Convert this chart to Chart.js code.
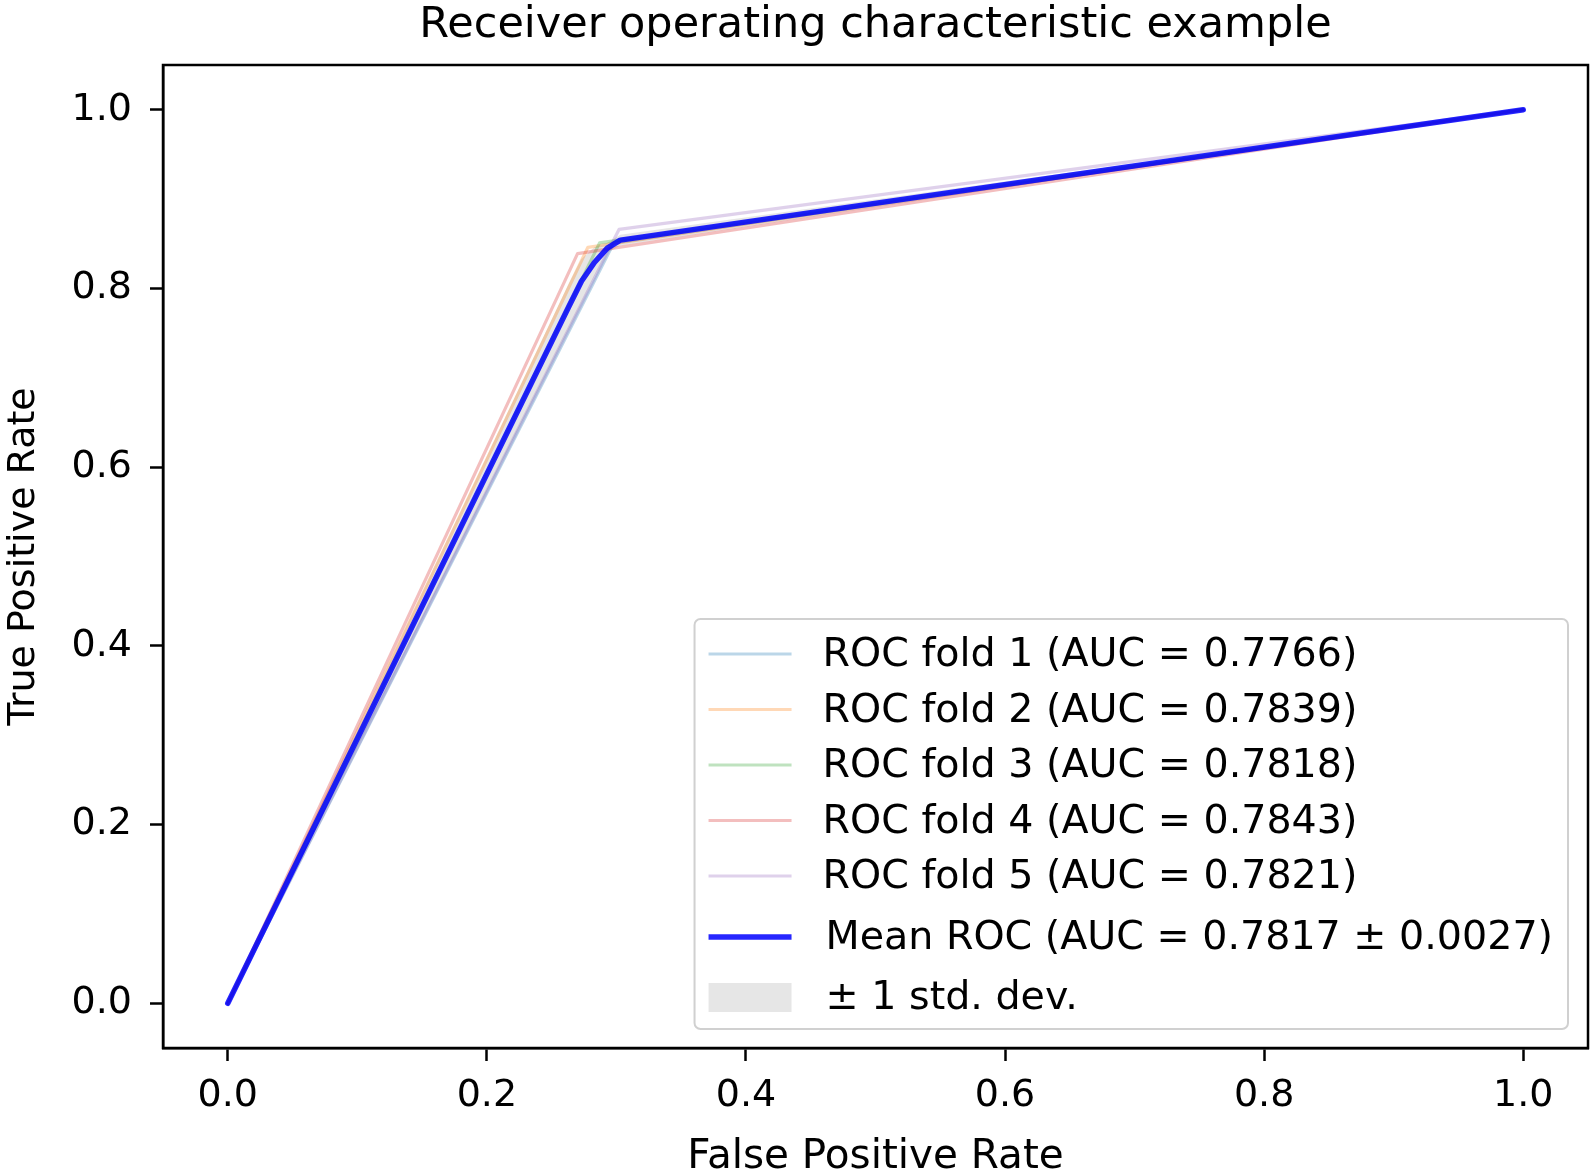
<!DOCTYPE html>
<html>
<head>
<meta charset="utf-8">
<script src="https://cdn.jsdelivr.net/npm/chart.js@4.4.1/dist/chart.umd.min.js"></script>
<style>
html,body{margin:0;padding:0;background:#fff;}
#wrap{width:1595px;height:1171px;}
</style>
</head>
<body>
<div id="wrap"><canvas id="c" width="1595" height="1171"></canvas></div>
<script>
// ---- data ----
const tickValues = [0, 0.2, 0.4, 0.6, 0.8, 1.0];
const tickLabels = ['0.0', '0.2', '0.4', '0.6', '0.8', '1.0'];

const fold1Fpr = [0, 0.298, 1];
const fold1Tpr = [0, 0.851, 1];
const fold2Fpr = [0, 0.278, 1];
const fold2Tpr = [0, 0.846, 1];
const fold3Fpr = [0, 0.287, 1];
const fold3Tpr = [0, 0.851, 1];
const fold4Fpr = [0, 0.270, 1];
const fold4Tpr = [0, 0.839, 1];
const fold5Fpr = [0, 0.302, 1];
const fold5Tpr = [0, 0.866, 1];
const foldAuc = [0.7766, 0.7839, 0.7818, 0.7843, 0.7821];

const meanFpr = [0, 0.263, 0.273, 0.283, 0.293, 0.303, 1];
const meanTpr = [0, 0.779, 0.808, 0.829, 0.845, 0.854, 1];
const upperTpr = [0, 0.805, 0.833, 0.846, 0.851, 0.860, 1];
const lowerTpr = [0, 0.754, 0.783, 0.813, 0.840, 0.848, 1];
const meanAuc = 0.7817;
const stdAuc = 0.0027;

// ---- styling ----
const FONT = '"DejaVu Sans", "Liberation Sans", sans-serif';
const foldColors = ['rgba(31,119,180,0.3)', 'rgba(255,127,14,0.3)', 'rgba(44,160,44,0.3)', 'rgba(214,39,40,0.3)', 'rgba(148,103,189,0.3)'];
const meanColor = 'rgba(0,0,255,0.85)';
const bandColor = 'rgba(128,128,128,0.2)';

const pts = (xs, ys) => xs.map((x, i) => ({x: x, y: ys[i]}));
const foldX = [fold1Fpr, fold2Fpr, fold3Fpr, fold4Fpr, fold5Fpr];
const foldY = [fold1Tpr, fold2Tpr, fold3Tpr, fold4Tpr, fold5Tpr];

const datasets = [];
datasets.push({label: 'Mean ROC (AUC = ' + meanAuc.toFixed(4) + ' \u00b1 ' + stdAuc.toFixed(4) + ')',
  data: pts(meanFpr, meanTpr), borderColor: meanColor, borderWidth: 5.5, pointRadius: 0, tension: 0,
  borderCapStyle: 'round', borderJoinStyle: 'round', fill: false, order: 0});
for (let i = 0; i < 5; i++) {
  datasets.push({label: 'ROC fold ' + (i + 1) + ' (AUC = ' + foldAuc[i].toFixed(4) + ')',
    data: pts(foldX[i], foldY[i]), borderColor: foldColors[i], borderWidth: 3.2, pointRadius: 0,
    tension: 0, fill: false, borderCapStyle: 'round', borderJoinStyle: 'round', order: 5 - i});
}
datasets.push({label: '\u00b1 1 std. dev.', data: pts(meanFpr, upperTpr), borderWidth: 0, borderColor: 'rgba(0,0,0,0)',
  backgroundColor: bandColor, pointRadius: 0, tension: 0, fill: '+1', order: 10});
datasets.push({label: 'lower', data: pts(meanFpr, lowerTpr), borderWidth: 0, borderColor: 'rgba(0,0,0,0)',
  pointRadius: 0, tension: 0, fill: false, order: 11});

const frame = {
  id: 'frame',
  afterDraw(chart) {
    const ctx = chart.ctx, a = chart.chartArea;
    ctx.save();
    ctx.strokeStyle = '#000';
    ctx.lineWidth = 2.5;
    ctx.strokeRect(a.left, a.top, a.right - a.left, a.bottom - a.top);
    ctx.restore();

    // legend (lower right, inside the axes)
    const legFont = 39.6;
    ctx.save();
    ctx.font = legFont + 'px ' + FONT;
    const rows = [];
    for (let i = 0; i < 5; i++) rows.push({text: datasets[i + 1].label, kind: 'line', color: foldColors[i], w: 3.2, dy: 35 + 55.5 * i, tx: 128});
    rows.push({text: datasets[0].label, kind: 'line', color: meanColor, w: 5.5, dy: 318, tx: 131});
    rows.push({text: datasets[6].label, kind: 'patch', color: bandColor, dy: 378, tx: 131});
    let maxRight = 0;
    rows.forEach(r => { maxRight = Math.max(maxRight, r.tx + ctx.measureText(r.text).width); });
    const boxW = maxRight + 15, boxH = 410;
    const right = a.right - 20, bottom = a.bottom - 19;
    const left = right - boxW, top = bottom - boxH;
    ctx.beginPath();
    ctx.roundRect(left, top, boxW, boxH, 6);
    ctx.fillStyle = 'rgba(255,255,255,0.85)';
    ctx.fill();
    ctx.strokeStyle = '#d0d0d0';
    ctx.lineWidth = 2;
    ctx.stroke();
    ctx.textBaseline = 'middle';
    ctx.textAlign = 'left';
    rows.forEach(r => {
      const y = top + r.dy;
      if (r.kind === 'line') {
        ctx.beginPath();
        ctx.moveTo(left + 14, y);
        ctx.lineTo(left + 97, y);
        ctx.strokeStyle = r.color;
        ctx.lineWidth = r.w;
        ctx.stroke();
      } else {
        ctx.fillStyle = r.color;
        ctx.fillRect(left + 14, y - 14, 83, 29);
      }
      ctx.fillStyle = '#000';
      ctx.fillText(r.text, left + r.tx, y + 2);
    });
    ctx.restore();
  }
};

const axisCommon = (titleText, titleSize, titleLH) => ({
  type: 'linear', min: -0.05, max: 1.05,
  afterBuildTicks: s => { s.ticks = tickValues.map(v => ({value: v})); },
  ticks: {callback: (v, i) => tickLabels[i], font: {family: FONT, size: 38}, color: '#000', maxRotation: 0, autoSkip: false},
  grid: {display: true, drawOnChartArea: false, drawTicks: true, tickLength: 13, tickColor: '#000', tickWidth: 2.5},
  border: {display: true, color: '#000', width: 2.5},
  title: {display: true, text: titleText, font: {family: FONT, size: titleSize, lineHeight: titleLH}, color: '#000', padding: 0}
});

const xAxis = axisCommon('False Positive Rate', 40.5, 0.65);
xAxis.ticks.padding = 12;
xAxis.afterFit = s => { s.height = 123; };
const yAxis = axisCommon('True Positive Rate', 38, 1.25);
yAxis.ticks.padding = 18;
yAxis.afterFit = s => { s.width = 163; };

// top axis only carries the chart title, centred over the plot area
const topAxis = {
  type: 'linear', position: 'top', min: -0.05, max: 1.05,
  ticks: {display: false}, grid: {display: false}, border: {display: false},
  title: {display: true, text: 'Receiver operating characteristic example', color: '#000',
    font: {family: FONT, size: 43, lineHeight: 1.0}, padding: {top: 4, bottom: 0}},
  afterFit: s => { s.height = 65; }
};

new Chart(document.getElementById('c'), {
  type: 'line',
  data: {datasets: datasets},
  options: {
    responsive: false, animation: false, devicePixelRatio: 1,
    layout: {padding: {left: 0, right: 7, top: 0, bottom: 0}},
    plugins: {
      legend: {display: false},
      tooltip: {enabled: false},
      title: {display: false}
    },
    scales: {x: xAxis, y: yAxis, xTop: topAxis}
  },
  plugins: [frame]
});
</script>
</body>
</html>
